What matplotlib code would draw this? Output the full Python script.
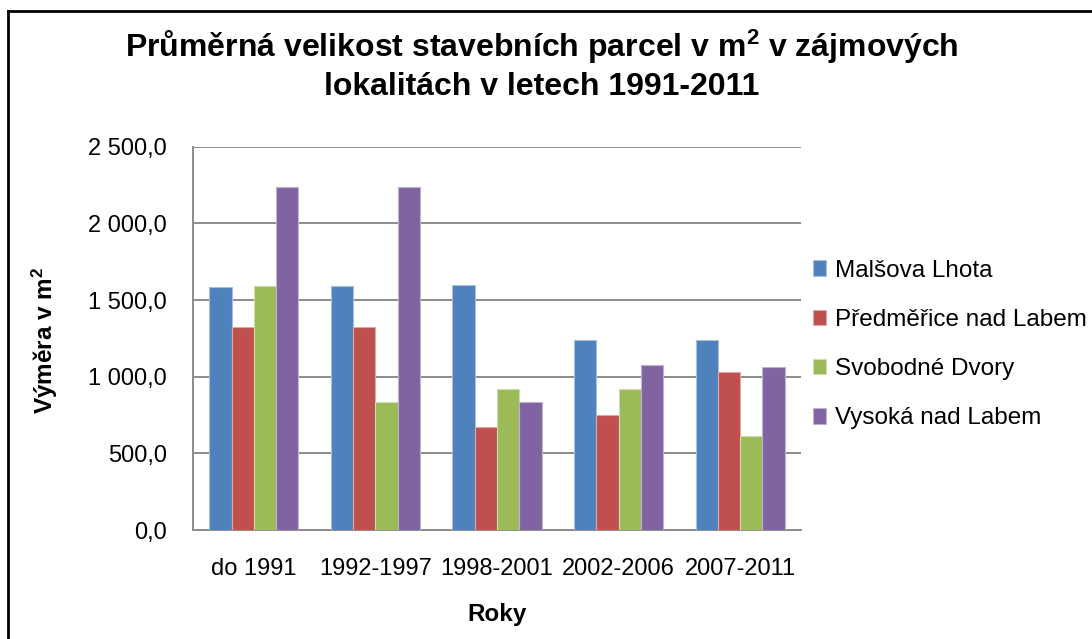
""" Průměrná velikost stavebních parcel - grouped bars """

import matplotlib.pyplot as plt
from matplotlib.lines import Line2D
import numpy as np

plt.rcParams['font.family'] = ['Liberation Sans', 'DejaVu Sans']
plt.rcParams['mathtext.fontset'] = 'custom'
plt.rcParams['mathtext.rm'] = 'Liberation Sans'
plt.rcParams['mathtext.bf'] = 'Liberation Sans:bold'

# data

periods = ['do 1991', '1992-1997', '1998-2001', '2002-2006', '2007-2011']
series_names = ['Malšova Lhota', 'Předměřice nad Labem', 'Svobodné Dvory', 'Vysoká nad Labem']
malsova_lhota = [1583, 1594, 1596, 1237, 1237]
predmerice = [1322, 1322, 672, 748, 1029]
svobodne_dvory = [1594, 833, 920, 920, 611]
vysoka = [2236, 2236, 833, 1078, 1065]
y_ticks = [0, 500, 1000, 1500, 2000, 2500]
y_tick_labels = ['0,0', '500,0', '1 000,0', '1 500,0', '2 000,0', '2 500,0']

colors = ['#4F81BD', '#C0504D', '#9BBB59', '#8064A2']
edges = ['#A7C0DE', '#E0A8A6', '#CDDDAC', '#BFB1D0']

# figure design

W, H = 1092, 639
fig = plt.figure(figsize=(W / 100, H / 100), dpi=100)
ax = fig.add_axes([193 / W, (H - 530) / H, (801 - 193) / W, (530 - 146.7) / H])

x = np.arange(len(periods))
w = 0.183
all_series = [malsova_lhota, predmerice, svobodne_dvory, vysoka]
for i, (vals, name) in enumerate(zip(all_series, series_names)):
    ax.bar(x + (i - 1.5) * w, vals, width=w, color=colors[i], edgecolor=edges[i],
           linewidth=0.8, label=name, zorder=3)

ax.set_xlim(-0.5, len(periods) - 0.5)
ax.set_ylim(0, 2500)
ax.set_yticks(y_ticks)
ax.set_yticklabels(y_tick_labels, fontsize=17)
ax.set_xticks(x)
ax.set_xticklabels(periods, fontsize=17)
ax.tick_params(axis='both', length=0, colors='#000000')
ax.tick_params(axis='y', pad=19)
ax.tick_params(axis='x', pad=20)

ax.grid(axis='y', color='#8C8C8C', linewidth=1.4, zorder=0)
for side in ['top', 'right']:
    ax.spines[side].set_visible(False)
for side in ['left', 'bottom']:
    ax.spines[side].set_color('#8C8C8C')
    ax.spines[side].set_linewidth(1.4)

ax.set_xlabel('Roky', fontsize=17.5, fontweight='bold', labelpad=17)
fig.text(45 / W, 1 - 340 / H, r'Výměra v m$\mathbf{^2}$', rotation=90, fontsize=17.5,
         fontweight='bold', ha='center', va='center')

fig.text(542 / W, 1 - 47 / H, r'Průměrná velikost stavebních parcel v m$\mathbf{^2}$ v zájmových',
         fontsize=23, fontweight='bold', ha='center', va='center')
fig.text(542 / W, 1 - 87 / H, 'lokalitách v letech 1991-2011',
         fontsize=23, fontweight='bold', ha='center', va='center')

fig.legend(loc='upper left', bbox_to_anchor=(803 / W, 1 - 250 / H), frameon=False,
           fontsize=17.5, handlelength=0.55, handleheight=0.6, handletextpad=0.35,
           labelspacing=1.12, borderaxespad=0)

# chart border

fig.add_artist(Line2D([8 / W, 8 / W], [0, 1 - 11 / H], color='black', linewidth=2))
fig.add_artist(Line2D([8 / W, 1], [1 - 11 / H, 1 - 11 / H], color='black', linewidth=2))

plt.savefig('out.png', dpi=100)
